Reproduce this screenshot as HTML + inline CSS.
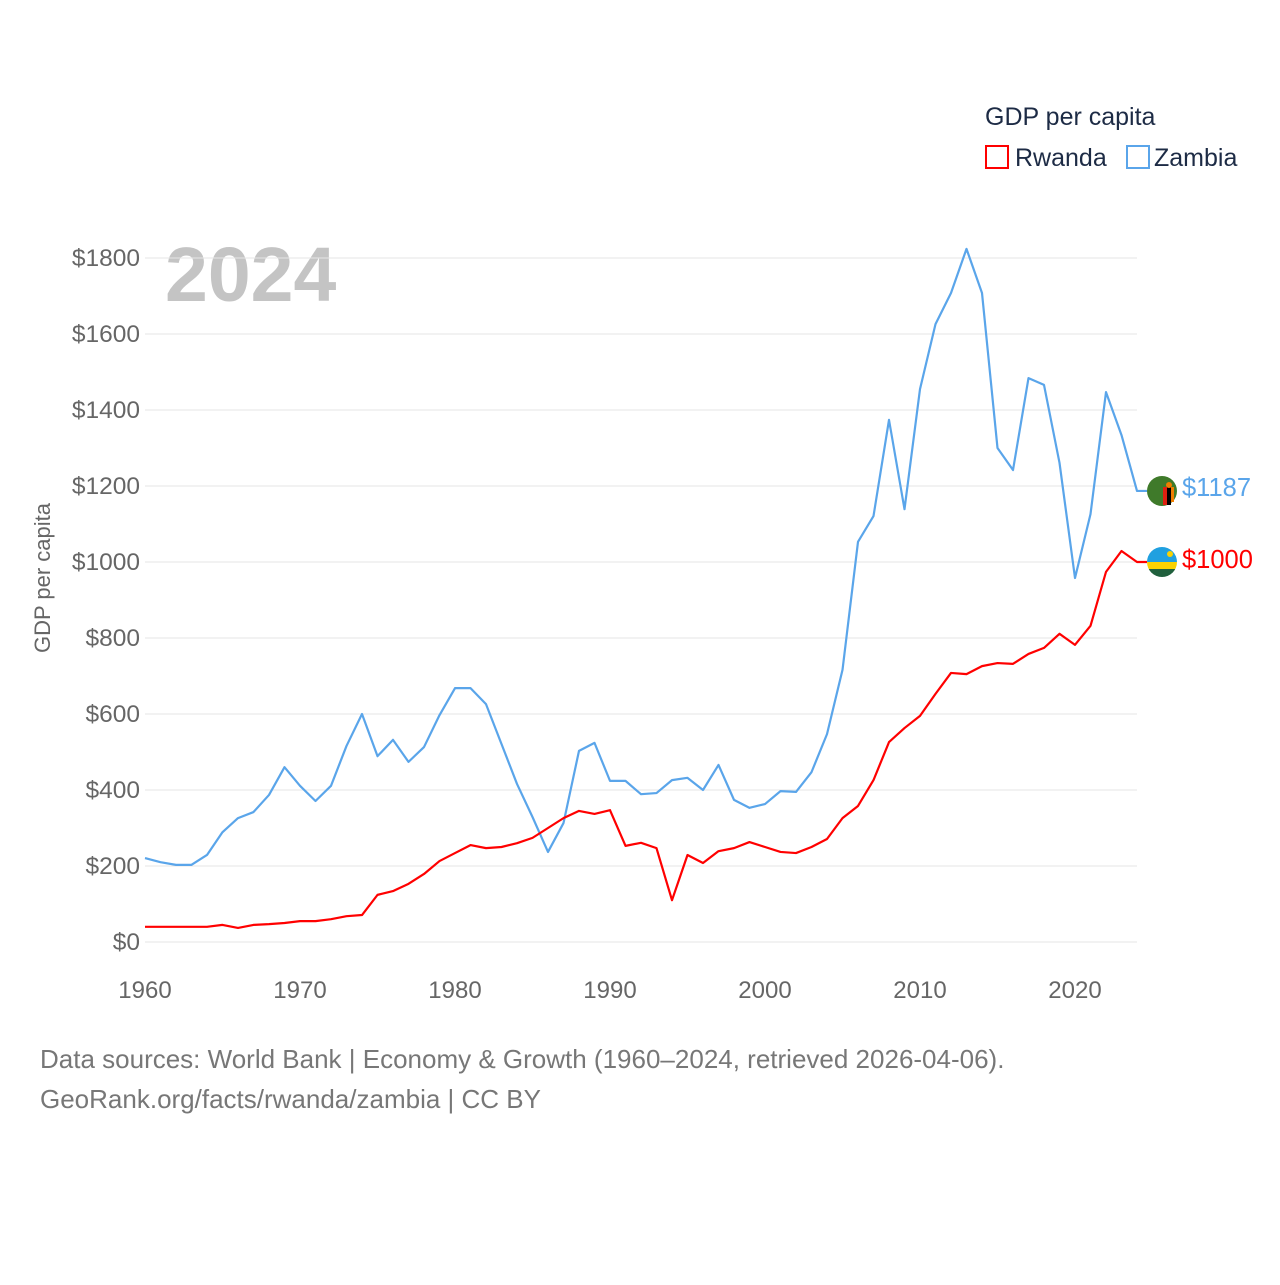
<!DOCTYPE html>
<html><head><meta charset="utf-8"><style>
body{margin:0;background:#fff;}
svg text{font-family:"Liberation Sans",sans-serif;}
</style></head><body>
<svg id="chart" width="1280" height="1280" xmlns="http://www.w3.org/2000/svg">
<text x="985" y="125" font-size="25" fill="#1d2b45">GDP per capita</text>
<g><rect x="986" y="146" width="22" height="22" fill="none" stroke="#ff0000" stroke-width="2"/><text x="1015" y="166" font-size="25" fill="#1d2b45">Rwanda</text></g>
<g><rect x="1127" y="146" width="22" height="22" fill="none" stroke="#5aa5ea" stroke-width="2"/><text x="1154" y="166" font-size="25" fill="#1d2b45">Zambia</text></g>
<text x="165" y="301" font-size="77" font-weight="bold" fill="#c4c4c4">2024</text>
<text transform="translate(50,578) rotate(-90)" text-anchor="middle" font-size="22" fill="#666">GDP per capita</text>
<g id="grid"></g><g id="yticks"></g><g id="xticks"></g><g id="lines"></g>
<text x="40" y="1068" font-size="26" fill="#777">Data sources: World Bank | Economy &amp; Growth (1960–2024, retrieved 2026-04-06).</text>
<text x="40" y="1108" font-size="26" fill="#777">GeoRank.org/facts/rwanda/zambia | CC BY</text>
<g><circle cx="1162" cy="491" r="15" fill="#3f7a2a"/><rect x="1163" y="487" width="4" height="18" fill="#de2010"/><rect x="1167" y="487" width="4" height="18" fill="#000"/><rect x="1171" y="487" width="3" height="15" fill="#ef7d00"/><circle cx="1169" cy="485" r="3" fill="#ef7d00"/></g>
<g><clipPath id="rc"><circle cx="1162" cy="562" r="15"/></clipPath><g clip-path="url(#rc)"><rect x="1147" y="547" width="30" height="15" fill="#20a0e0"/><rect x="1147" y="562" width="30" height="8" fill="#fad201"/><rect x="1147" y="569" width="30" height="9" fill="#20603d"/><circle cx="1170" cy="554" r="3" fill="#fad201"/></g></g>
<text x="1182" y="496" font-size="25.5" fill="#5aa5ea">$1187</text>
<text x="1182" y="568" font-size="25.5" fill="#ff0000">$1000</text>
</svg>
<script>
const years=[];for(let y=1960;y<=2024;y++)years.push(y);
const zambia=[221,210,203,203,229,289,326,342,387,460,411,371,411,516,600,489,532,474,513,597,668,668,626,521,416,329,237,313,503,524,424,424,389,392,426,432,400,466,374,353,363,397,395,447,547,716,1053,1121,1374,1139,1455,1626,1708,1824,1708,1300,1242,1484,1466,1261,958,1126,1447,1334,1187];
const rwanda=[40,40,40,40,40,45,37,45,47,50,55,55,60,68,71,124,134,153,179,213,234,255,247,250,260,274,300,326,345,337,347,253,261,247,110,229,208,239,247,263,250,237,234,250,271,326,358,426,526,563,595,653,708,705,726,734,732,758,774,811,782,832,974,1029,1000];
const yTicks=[0,200,400,600,800,1000,1200,1400,1600,1800];
const xTicks=[1960,1970,1980,1990,2000,2010,2020];
const NS="http://www.w3.org/2000/svg";
const X=v=>145+(v-1960)*15.5, Y=v=>942-v*0.38;
function mk(t,a,p){const e=document.createElementNS(NS,t);for(const k in a)e.setAttribute(k,a[k]);document.getElementById(p).appendChild(e);return e;}
yTicks.forEach(v=>{
 const l=mk('line',{x1:145,x2:1137,y1:Y(v),y2:Y(v),stroke:'#e6e6e6','stroke-width':1},'grid');
 
 
 const t=mk('text',{x:140,y:Y(v)+8,'text-anchor':'end','font-size':24.5,fill:'#666'},'yticks');
 t.textContent='$'+v;
 
 
});
xTicks.forEach(v=>{
 const t=mk('text',{x:X(v),y:998,'text-anchor':'middle','font-size':24,fill:'#666'},'xticks');
 t.textContent=v;
 
 
});
function line(vals,col,name){
 let d=vals.map((v,i)=>(i?'L':'M')+X(years[i])+','+Y(v)).join('');
 d+='L1147,'+Y(vals[vals.length-1]);
 const p=mk('path',{d:d,fill:'none',stroke:col,'stroke-width':2.2,'stroke-linejoin':'round'},'lines');
 
 
}
line(zambia,'#5aa5ea','zambia-line');
line(rwanda,'#ff0000','rwanda-line');
</script>
</body></html>
